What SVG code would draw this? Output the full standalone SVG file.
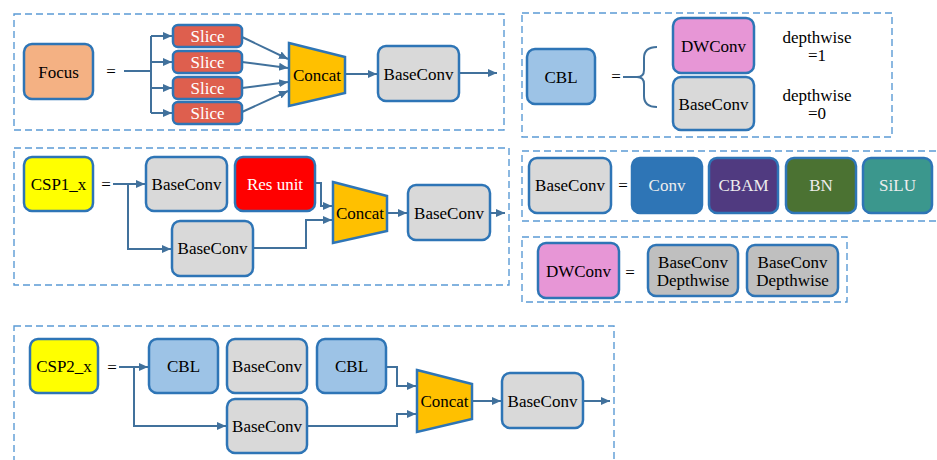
<svg xmlns="http://www.w3.org/2000/svg" width="937" height="460" viewBox="0 0 937 460">
<defs>
<marker id="ah" markerUnits="userSpaceOnUse" markerWidth="10" markerHeight="10" refX="9" refY="5" orient="auto">
<path d="M0,1 L9,5 L0,9 z" fill="#41719C"/>
</marker>
<style>
.panel{fill:none;stroke:#5B9BD5;stroke-width:1.4;stroke-dasharray:7,4}
.box{stroke:#2E75B6;stroke-width:2.5}
.gray{fill:#D9D9D9}
.dgray{fill:#BFBFBF}
.cbl{fill:#9DC3E6}
.yel{fill:#FFFF00}
.pink{fill:#E796D6}
.slice{fill:#DE5F4E}
.concat{fill:#FFC000;stroke:#2E75B6;stroke-width:2.5}
.t{font-family:"Liberation Serif","DejaVu Serif",serif;font-size:17px;fill:#000;text-anchor:middle}
.w{fill:#FFFFFF}
.lw{fill:#EDEDED}
.c{fill:none;stroke:#41719C;stroke-width:2}
.ca{fill:none;stroke:#41719C;stroke-width:2;marker-end:url(#ah)}
</style>
</defs>

<!-- panels -->
<rect class="panel" x="14" y="14" width="490" height="116"/>
<rect class="panel" x="522" y="13" width="370" height="124"/>
<rect class="panel" x="14" y="148" width="495" height="137"/>
<rect class="panel" x="522" y="151" width="425" height="70"/>
<rect class="panel" x="522" y="237" width="325" height="65"/>
<rect class="panel" x="14" y="326" width="600" height="145"/>

<!-- connectors -->
<g id="connectors">
<line class="c" x1="124" y1="71" x2="151" y2="71" stroke-width="3"/>
<line class="c" x1="151" y1="36" x2="151" y2="113"/>
<line class="ca" x1="151" y1="36" x2="172" y2="36"/>
<line class="ca" x1="151" y1="62" x2="172" y2="62"/>
<line class="ca" x1="151" y1="88" x2="172" y2="88"/>
<line class="ca" x1="151" y1="113" x2="172" y2="113"/>
<line class="ca" x1="242" y1="37" x2="288" y2="59"/>
<line class="ca" x1="242" y1="62" x2="288" y2="68"/>
<line class="ca" x1="242" y1="88" x2="288" y2="82"/>
<line class="ca" x1="242" y1="112" x2="288" y2="91"/>
<line class="ca" x1="345" y1="74" x2="377" y2="74"/>
<line class="ca" x1="459" y1="73" x2="497" y2="73"/>

<line class="c" x1="623" y1="77" x2="637" y2="77"/>
<path class="c" d="M657,47 Q644,47 644,58 L644,70 Q644,77 637,77 Q644,77 644,84 L644,96 Q644,107 657,107"/>

<line class="ca" x1="113" y1="184" x2="145" y2="184"/>
<polyline class="ca" points="128,184 128,249 171,249"/>
<polyline class="ca" points="316,183 321,183 321,206 332,206"/>
<polyline class="ca" points="253,248 306,248 306,220 332,220"/>
<line class="ca" x1="387" y1="213" x2="407" y2="213"/>
<line class="ca" x1="490" y1="213" x2="505" y2="213"/>

<line class="ca" x1="119" y1="367" x2="148" y2="367"/>
<polyline class="ca" points="134,367 134,426 226,426"/>
<polyline class="ca" points="386,367 397,367 397,386 416,386"/>
<polyline class="ca" points="307,426 397,426 397,414 416,414"/>
<line class="ca" x1="472" y1="401" x2="501" y2="401"/>
<line class="ca" x1="583" y1="401" x2="610" y2="401"/>
</g>

<!-- top-left: Focus -->
<g id="focus"><rect class="box" x="24" y="44" width="69" height="55" rx="8" fill="#F4B183"/><text class="t" x="58.5" y="77.5">Focus</text></g>
<text class="t" x="111" y="76.5">=</text>
<g id="slice1"><rect class="box slice" x="173" y="25" width="69" height="22" rx="5"/><text class="t w" x="207.5" y="42">Slice</text></g>
<g id="slice2"><rect class="box slice" x="173" y="51" width="69" height="22" rx="5"/><text class="t w" x="207.5" y="68">Slice</text></g>
<g id="slice3"><rect class="box slice" x="173" y="77" width="69" height="22" rx="5"/><text class="t w" x="207.5" y="94">Slice</text></g>
<g id="slice4"><rect class="box slice" x="173" y="102" width="69" height="22" rx="5"/><text class="t w" x="207.5" y="119">Slice</text></g>
<g id="concat1"><polygon class="concat" points="289,43 345,57 345,93 289,106"/><text class="t" x="317" y="80.5">Concat</text></g>
<g id="baseconv1"><rect class="box gray" x="378" y="46" width="81" height="55" rx="8"/><text class="t" x="418.5" y="79.5">BaseConv</text></g>

<!-- top-right: CBL -->
<g id="cbl"><rect class="box cbl" x="527" y="49" width="68" height="55" rx="8"/><text class="t" x="561" y="82.5">CBL</text></g>
<text class="t" x="616" y="81.5">=</text>
<g id="dwconv-opt"><rect class="box pink" x="673" y="18" width="81" height="55" rx="8"/><text class="t" x="713.5" y="51.5">DWConv</text></g>
<g id="baseconv-opt"><rect class="box gray" x="673" y="77" width="81" height="53" rx="8"/><text class="t" x="713.5" y="109.5">BaseConv</text></g>
<text class="t" x="817" y="42.5">depthwise</text>
<text class="t" x="817" y="60.5">=1</text>
<text class="t" x="817" y="100.5">depthwise</text>
<text class="t" x="817" y="118.5">=0</text>

<!-- CSP1_x -->
<g id="csp1"><rect class="box yel" x="24" y="157" width="69" height="54" rx="8"/><text class="t" x="58.5" y="189.5">CSP1_x</text></g>
<text class="t" x="106" y="189.5">=</text>
<g id="csp1-baseconv1"><rect class="box gray" x="146" y="157" width="81" height="54" rx="8"/><text class="t" x="186.5" y="189.5">BaseConv</text></g>
<g id="resunit"><rect class="box" x="235" y="157" width="80" height="54" rx="8" fill="#FF0000"/><text class="t w" x="275" y="189.5">Res unit</text></g>
<g id="csp1-baseconv2"><rect class="box gray" x="172" y="221" width="81" height="55" rx="8"/><text class="t" x="212.5" y="253.5">BaseConv</text></g>
<g id="concat2"><polygon class="concat" points="333,182 387,196 387,231 333,243"/><text class="t" x="360" y="218.5">Concat</text></g>
<g id="csp1-baseconv3"><rect class="box gray" x="408" y="185" width="82" height="55" rx="8"/><text class="t" x="449" y="218.5">BaseConv</text></g>

<!-- BaseConv definition -->
<g id="baseconv-def"><rect class="box gray" x="529" y="158" width="82" height="55" rx="8"/><text class="t" x="570" y="190.5">BaseConv</text></g>
<text class="t" x="623" y="190.5">=</text>
<g id="conv"><rect x="632" y="158" width="70" height="55" rx="8" fill="#2E75B6" stroke="#2E75B6" stroke-width="2.5"/><text class="t lw" x="667" y="190.5">Conv</text></g>
<g id="cbam"><rect class="box" x="709" y="158" width="69" height="55" rx="8" fill="#503A80"/><text class="t lw" x="743.5" y="190.5">CBAM</text></g>
<g id="bn"><rect class="box" x="786" y="158" width="70" height="55" rx="8" fill="#4B7232"/><text class="t lw" x="821" y="190.5">BN</text></g>
<g id="silu"><rect class="box" x="863" y="158" width="69" height="55" rx="8" fill="#3B978D"/><text class="t lw" x="897.5" y="190.5">SiLU</text></g>

<!-- DWConv definition -->
<g id="dwconv-def"><rect class="box pink" x="538" y="243" width="81" height="55" rx="8"/><text class="t" x="578.5" y="276.5">DWConv</text></g>
<text class="t" x="630" y="277.5">=</text>
<g id="bcdw1"><rect class="box dgray" x="648" y="245" width="90" height="51" rx="8"/><text class="t" x="693" y="267.5">BaseConv</text><text class="t" x="693" y="285.5">Depthwise</text></g>
<g id="bcdw2"><rect class="box dgray" x="747" y="245" width="91" height="51" rx="8"/><text class="t" x="792.5" y="267.5">BaseConv</text><text class="t" x="792.5" y="285.5">Depthwise</text></g>

<!-- CSP2_x -->
<g id="csp2"><rect class="box yel" x="30" y="339" width="68" height="54" rx="8"/><text class="t" x="64" y="371.5">CSP2_x</text></g>
<text class="t" x="112" y="372.5">=</text>
<g id="csp2-cbl1"><rect class="box cbl" x="149" y="339" width="69" height="54" rx="8"/><text class="t" x="183.5" y="371.5">CBL</text></g>
<g id="csp2-baseconv1"><rect class="box gray" x="227" y="339" width="80" height="54" rx="8"/><text class="t" x="267" y="371.5">BaseConv</text></g>
<g id="csp2-cbl2"><rect class="box cbl" x="317" y="339" width="69" height="54" rx="8"/><text class="t" x="351.5" y="371.5">CBL</text></g>
<g id="csp2-baseconv2"><rect class="box gray" x="227" y="399" width="80" height="54" rx="8"/><text class="t" x="267" y="431.5">BaseConv</text></g>
<g id="concat3"><polygon class="concat" points="417,370 472,384 472,419 417,432"/><text class="t" x="444.5" y="406.5">Concat</text></g>
<g id="csp2-baseconv3"><rect class="box gray" x="502" y="373" width="81" height="55" rx="8"/><text class="t" x="542.5" y="406.5">BaseConv</text></g>
</svg>
